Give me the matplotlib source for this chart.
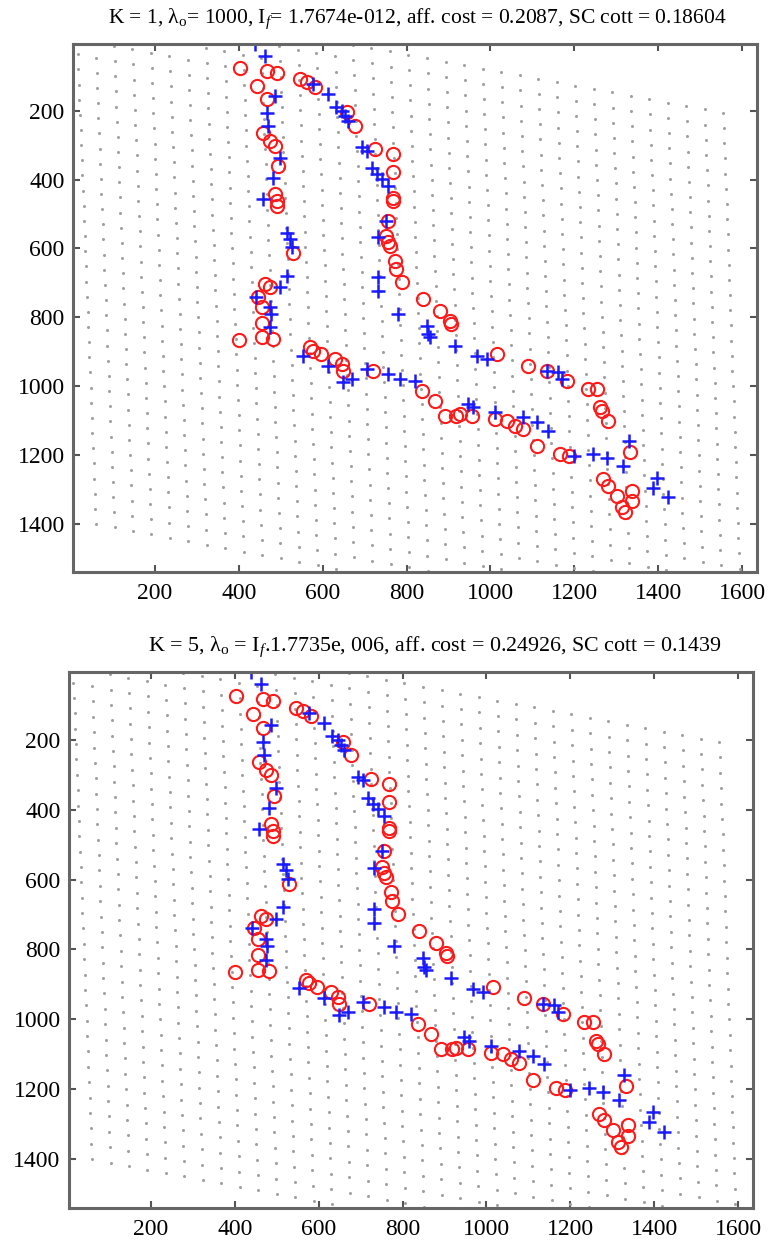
import matplotlib.pyplot as plt
import numpy as np

plt.rcParams['font.family'] = ['Liberation Serif', 'DejaVu Serif']
plt.rcParams['mathtext.fontset'] = 'custom'
plt.rcParams['mathtext.rm'] = 'Liberation Serif'
plt.rcParams['mathtext.it'] = 'Liberation Serif:italic'

# warped sampling grid: corners (TL, TR, BL, BR)
grid_cx = [10, 1555, 60, 1600]
grid_cy = [-140, 206, 1400, 1750]
n_rows, n_cols = 36, 36

# red circles (target shape)
red_x = [403, 443, 467, 491, 467, 458, 474, 486, 493, 486, 491, 491, 529,
         546, 562, 582, 657, 677, 725, 768, 768, 768, 768, 756, 752, 756, 760,
         772, 776, 788, 840, 880, 903, 907, 1015, 1090, 1134, 1182, 1233, 1253,
         1261, 1265, 1281, 1333, 1269, 1281, 1301, 1313, 1321, 1337, 1337,
         462, 475, 445, 455, 455, 400, 455, 482,
         570, 578, 597, 629, 645, 649, 721, 836, 868, 892, 919, 927, 955,
         1011, 1039, 1059, 1078, 1110, 1166, 1186]
red_y = [75, 127, 84, 90, 165, 264, 287, 302, 360, 441, 461, 476, 612,
         108, 118, 132, 205, 244, 311, 326, 379, 452, 462, 519, 563, 582, 592,
         636, 660, 698, 747, 781, 810, 820, 907, 940, 955, 984, 1008, 1008,
         1061, 1071, 1100, 1192, 1270, 1289, 1318, 1352, 1366, 1304, 1333,
         704, 713, 740, 771, 815, 865, 858, 863,
         887, 897, 907, 921, 935, 955, 955, 1013, 1042, 1086, 1086, 1081, 1086,
         1096, 1100, 1115, 1125, 1173, 1197, 1202]

# blue pluses (warped model points)
blue_x = [438, 462, 486, 467, 470, 498, 481, 458, 515, 522, 526, 515, 498,
          440, 474, 478, 474,
          578, 613, 633, 645, 653, 661, 693, 705, 717, 729, 741, 756, 752, 733,
          733, 733, 780, 848, 852, 856, 915, 967, 991, 1134, 1162, 1170,
          1329, 1317, 1396, 1388, 1424, 1198, 1245, 1277, 1110, 1138, 1078,
          1011, 959, 947, 554, 613, 649, 669, 705, 756, 784, 820]
blue_y = [5, 40, 156, 206, 244, 337, 395, 456, 554, 572, 597, 679, 713,
          740, 771, 790, 829,
          122, 152, 190, 200, 214, 229, 306, 316, 365, 384, 398, 418, 519, 568,
          684, 723, 791, 824, 849, 858, 883, 912, 921, 955, 960, 979,
          1159, 1231, 1265, 1294, 1323, 1202, 1197, 1207, 1105, 1129, 1090,
          1076, 1061, 1052, 911, 940, 989, 979, 950, 965, 979, 984]

titles = [r'K = 1, λ$_\mathrm{o}$= 1000, I$_f$= 1.7674e-012, aff. cost = 0.2087, SC cott = 0.18604',
          r'K = 5, λ$_\mathrm{o}$ = I$_f$.1.7735e, 006, aff. cost = 0.24926, SC cott = 0.1439']

# bilinear map of the regular grid onto the picture corners
u, v = np.meshgrid(np.linspace(0, 1, n_cols), np.linspace(0, 1, n_rows))
gx = (grid_cx[0] * (1 - u) * (1 - v) + grid_cx[1] * u * (1 - v)
      + grid_cx[2] * (1 - u) * v + grid_cx[3] * u * v)
gy = (grid_cy[0] * (1 - u) * (1 - v) + grid_cy[1] * u * (1 - v)
      + grid_cy[2] * (1 - u) * v + grid_cy[3] * u * v)

fig = plt.figure(figsize=(7.71, 12.44), dpi=100)
boxes = [[0.0947, 0.540, 0.887, 0.425], [0.0895, 0.029, 0.887, 0.431]]
title_x = [0.503, 0.535]
title_fs = [15.5, 15.8]

for k in range(2):
    ax = fig.add_axes(boxes[k])
    ax.plot(gx.ravel(), gy.ravel(), linestyle='none', marker='o', ms=2.2,
            color='#a0a0a0', mec='none')
    ax.plot(red_x, red_y, linestyle='none', marker='o', ms=9.5, mfc='none',
            mec='#ff1a1a', mew=1.5)
    ax.plot(blue_x, blue_y, linestyle='none', marker='+', ms=10,
            color='#1a1aff', mew=1.8)
    ax.set_xlim(5, 1635)
    ax.set_ylim(1540, 5)
    ax.set_xticks(range(200, 1601, 200))
    ax.set_yticks(range(200, 1401, 200))
    ax.tick_params(direction='in', length=5, width=1.5, color='#555555',
                   top=True, right=True, labelsize=17)
    ax.tick_params(axis='x', pad=8)
    ax.tick_params(axis='y', pad=6)
    for s in ax.spines.values():
        s.set_color('#666666')
        s.set_linewidth(2.2)
    ax.text(title_x[k], 1.046, titles[k], transform=ax.transAxes,
            ha='center', va='center', fontsize=title_fs[k])

fig.savefig('out.png', dpi=100)
